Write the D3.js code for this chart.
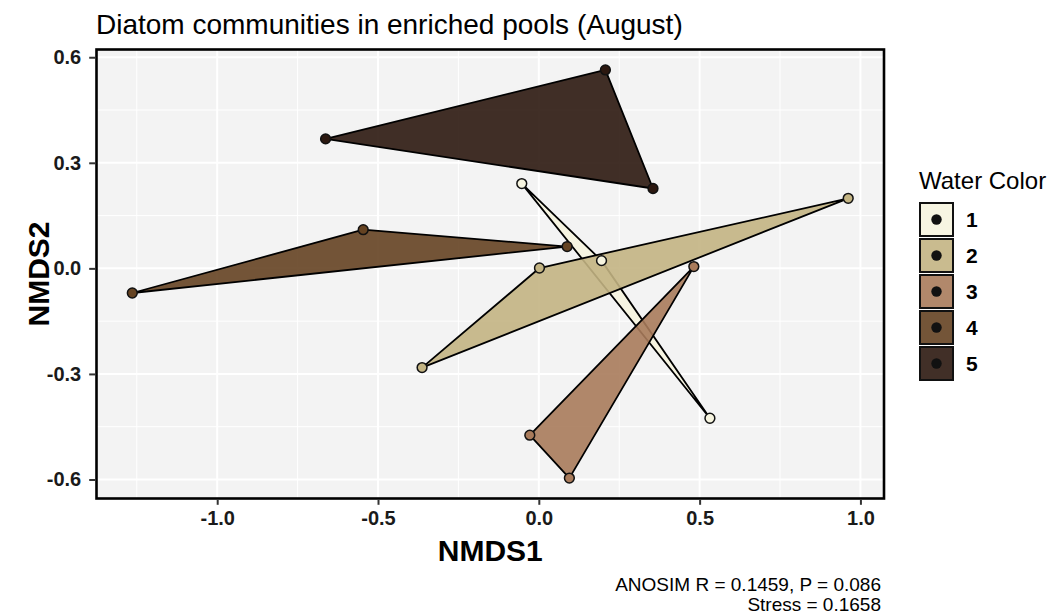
<!DOCTYPE html>
<html><head><meta charset="utf-8">
<script src="https://cdn.jsdelivr.net/npm/d3@7"></script>
<style>body{margin:0;background:#fff;} text{font-family:Arial,"Liberation Sans",sans-serif;}</style>
</head><body>
<svg id="chart" width="1051" height="615"></svg>
<script>
const groups = ["1","2","3","4","5"];
const groupColors = ["#F6F4DF","#C3B483","#A97B5B","#654322","#2C1810"];
const nmds1 = [-0.053, 0.195, 0.532,   0.002, 0.962, -0.363,   0.482, -0.028, 0.095,   -1.264, -0.546, 0.088,   0.207, -0.663, 0.355];
const nmds2 = [0.241, 0.022, -0.426,   0.001, 0.199, -0.282,   0.005, -0.474, -0.596,   -0.070, 0.110, 0.062,   0.564, 0.368, 0.227];
const waterColor = ["1","1","1","2","2","2","3","3","3","4","4","4","5","5","5"];
const xTicks = [-1.0, -0.5, 0.0, 0.5, 1.0];
const yTicks = [-0.6, -0.3, 0.0, 0.3, 0.6];
const xMinor = [-1.25, -0.75, -0.25, 0.25, 0.75];
const yMinor = [-0.45, -0.15, 0.15, 0.45];
const titleText = "Diatom communities in enriched pools (August)";
const captionLines = ["ANOSIM R = 0.1459, P = 0.086", "Stress = 0.1658"];

const pts = nmds1.map((x,i)=>({x, y:nmds2[i], g:waterColor[i]}));
const svg = d3.select("#chart");
const L=96.5, R=884, T=49.5, B=498.5;

function expand(ext){const r=ext[1]-ext[0];return [ext[0]-0.05*r, ext[1]+0.05*r];}
const x = d3.scaleLinear().domain(expand(d3.extent(nmds1))).range([L,R]);
const y = d3.scaleLinear().domain(expand(d3.extent(nmds2))).range([B,T]);
const color = d3.scaleOrdinal().domain(groups).range(groupColors);

// panel background
svg.append("rect").attr("x",L).attr("y",T).attr("width",R-L).attr("height",B-T).attr("fill","#F3F3F3");
const grid = svg.append("g");
grid.selectAll(".xm").data(xMinor).join("line").attr("x1",d=>x(d)).attr("x2",d=>x(d)).attr("y1",T).attr("y2",B).attr("stroke","#fff").attr("stroke-width",1);
grid.selectAll(".ym").data(yMinor).join("line").attr("y1",d=>y(d)).attr("y2",d=>y(d)).attr("x1",L).attr("x2",R).attr("stroke","#fff").attr("stroke-width",1);
grid.selectAll(".xM").data(xTicks).join("line").attr("x1",d=>x(d)).attr("x2",d=>x(d)).attr("y1",T).attr("y2",B).attr("stroke","#fff").attr("stroke-width",2);
grid.selectAll(".yM").data(yTicks).join("line").attr("y1",d=>y(d)).attr("y2",d=>y(d)).attr("x1",L).attr("x2",R).attr("stroke","#fff").attr("stroke-width",2);

// hulls
const hullG = svg.append("g");
groups.forEach(g=>{
  const p = pts.filter(d=>d.g===g).map(d=>[x(d.x),y(d.y)]);
  const h = d3.polygonHull(p);
  hullG.append("path").attr("d","M"+h.join("L")+"Z").attr("fill",color(g)).attr("fill-opacity",0.9)
    .attr("stroke","#000").attr("stroke-width",1.8).attr("stroke-linejoin","round");
});
// points
svg.append("g").selectAll("circle").data(pts).join("circle")
  .attr("cx",d=>x(d.x)).attr("cy",d=>y(d.y)).attr("r",4.9)
  .attr("fill",d=>color(d.g)).attr("stroke","#111").attr("stroke-width",1.5);

// border
svg.append("rect").attr("x",L).attr("y",T).attr("width",R-L).attr("height",B-T).attr("fill","none").attr("stroke","#000").attr("stroke-width",2.6);

// axes
const xAxis = svg.append("g").attr("transform",`translate(0,${B+1.3})`)
  .call(d3.axisBottom(x).tickValues(xTicks).tickFormat(d3.format(".1f")).tickSize(5).tickPadding(6));
const yAxis = svg.append("g").attr("transform",`translate(${L-1.3},0)`)
  .call(d3.axisLeft(y).tickValues(yTicks).tickFormat(d3.format(".1f")).tickSize(6).tickPadding(8));
[xAxis,yAxis].forEach(a=>{
  a.select(".domain").remove();
  a.selectAll(".tick line").attr("stroke","#333").attr("stroke-width",2);
  a.selectAll(".tick text").attr("font-size",20).attr("font-weight","bold").attr("fill","#1a1a1a")
    .style("font-family","Arial, 'Liberation Sans', sans-serif");
});
xAxis.selectAll(".tick text").text(d=>d3.format(".1f")(d).replace("−","-"));
yAxis.selectAll(".tick text").text(d=>d3.format(".1f")(d).replace("−","-"));

svg.append("text").attr("x",(L+R)/2).attr("y",561).attr("text-anchor","middle")
  .attr("font-size",30).attr("font-weight","bold").text("NMDS1");
svg.append("text").attr("transform",`translate(49,${(T+B)/2}) rotate(-90)`).attr("text-anchor","middle")
  .attr("font-size",30).attr("font-weight","bold").text("NMDS2");

svg.append("text").attr("x",L-0.5).attr("y",34).attr("font-size",28).text(titleText);

captionLines.forEach((t,i)=>{
  svg.append("text").attr("x",881).attr("y",591+i*19.5).attr("text-anchor","end").attr("font-size",19).text(t);
});

// legend
const lg = svg.append("g");
lg.append("text").attr("x",919).attr("y",189).attr("font-size",24).text("Water Color");
groups.forEach((g,i)=>{
  const ky = 203 + i*36;
  lg.append("rect").attr("x",920).attr("y",ky).attr("width",33).attr("height",33)
    .attr("fill",color(g)).attr("fill-opacity",0.9).attr("stroke","#111").attr("stroke-width",2);
  lg.append("circle").attr("cx",936.5).attr("cy",ky+16.5).attr("r",5.2).attr("fill","#111");
  lg.append("text").attr("x",966).attr("y",ky+24).attr("font-size",21).attr("font-weight","bold").text(g);
});
</script>
</body></html>
